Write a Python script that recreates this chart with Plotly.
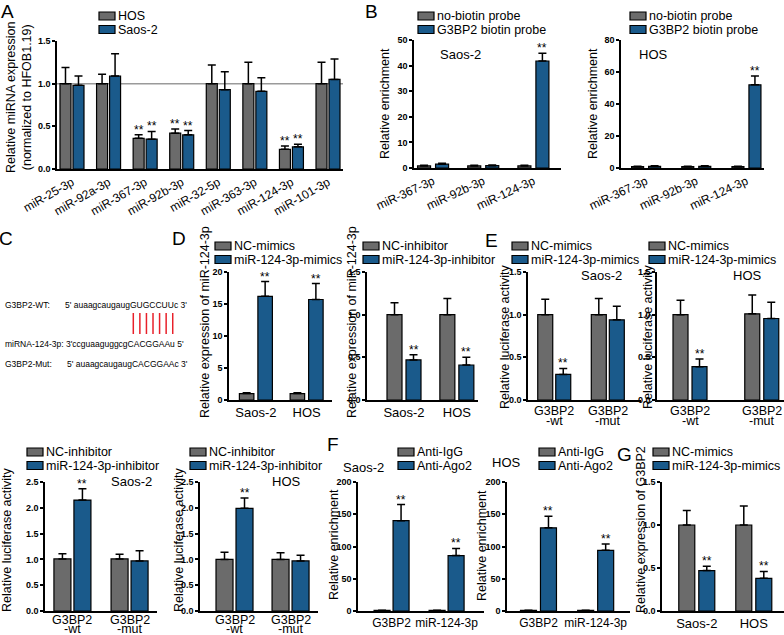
import plotly.graph_objects as go

W, H = 784, 635
GREY = "#6b6b6b"
BLUE = "#1a5a8b"
FONT = "Liberation Sans, Arial, sans-serif"

# --- A: miRNA expression ---
a_cats = ["miR-25-3p", "miR-92a-3p", "miR-367-3p", "miR-92b-3p",
          "miR-32-5p", "miR-363-3p", "miR-124-3p", "miR-101-3p"]
a_hos = [1.0, 1.0, 0.36, 0.42, 1.0, 1.0, 0.23, 1.0]
a_hos_err = [0.19, 0.11, 0.04, 0.05, 0.22, 0.25, 0.04, 0.25]
a_saos = [0.98, 1.09, 0.35, 0.40, 0.93, 0.91, 0.26, 1.05]
a_saos_err = [0.11, 0.26, 0.09, 0.05, 0.21, 0.16, 0.03, 0.24]
a_hos_sig = [0, 0, 1, 1, 0, 0, 1, 0]
a_saos_sig = [0, 0, 1, 1, 0, 0, 1, 0]

# --- B: biotin pull-down ---
b_cats = ["miR-367-3p", "miR-92b-3p", "miR-124-3p"]
b1_nob = [0.8, 0.8, 0.8]
b1_nob_err = [0.3, 0.3, 0.3]
b1_g3 = [1.5, 0.9, 41.8]
b1_g3_err = [0.4, 0.3, 3.0]
b2_nob = [0.8, 0.8, 0.8]
b2_nob_err = [0.3, 0.3, 0.3]
b2_g3 = [1.0, 1.0, 52.0]
b2_g3_err = [0.4, 0.4, 5.5]
b_nob_sig = [0, 0, 0]
b_g3_sig = [0, 0, 1]

# --- D: miR-124-3p expression ---
cell_cats = ["Saos-2", "HOS"]
d1_nc = [1.0, 1.0]
d1_nc_err = [0.12, 0.15]
d1_mim = [16.2, 15.7]
d1_mim_err = [2.3, 2.5]
d2_nc = [1.0, 1.0]
d2_nc_err = [0.14, 0.19]
d2_inh = [0.47, 0.41]
d2_inh_err = [0.06, 0.09]

# --- E / lower luciferase ---
luc_cats = ["G3BP2-wt", "G3BP2-mut"]
luc_line1 = ["G3BP2", "G3BP2"]
luc_line2 = ["-wt", "-mut"]
e1_nc = [1.0, 1.0]
e1_nc_err = [0.18, 0.19]
e1_mim = [0.30, 0.94]
e1_mim_err = [0.07, 0.16]
e2_nc = [1.0, 1.01]
e2_nc_err = [0.17, 0.22]
e2_mim = [0.39, 0.955]
e2_mim_err = [0.09, 0.19]
h1_nc = [1.01, 1.01]
h1_nc_err = [0.10, 0.09]
h1_inh = [2.15, 0.97]
h1_inh_err = [0.22, 0.20]
h2_nc = [1.0, 1.0]
h2_nc_err = [0.14, 0.13]
h2_inh = [1.99, 0.97]
h2_inh_err = [0.20, 0.11]
luc_sig = [1, 0]

# --- F: Ago2 RIP ---
f_cats = ["G3BP2", "miR-124-3p"]
f1_igg = [1.0, 1.0]
f1_ago = [140, 86]
f1_ago_err = [25, 11]
f2_igg = [1.0, 1.0]
f2_ago = [129, 94]
f2_ago_err = [18, 10]

# --- G: G3BP2 expression ---
g_nc = [1.0, 1.0]
g_nc_err = [0.17, 0.22]
g_mim = [0.47, 0.38]
g_mim_err = [0.05, 0.08]

zeros2 = [0, 0]
none2 = [0, 0]
both2 = [1, 1]


def px(x):
    return x / W


def py(y):
    return 1 - y / H


panels = [
    dict(cats=a_cats, g=(a_hos, a_hos_err, a_hos_sig), b=(a_saos, a_saos_err, a_saos_sig),
         box=(57, 343, 41, 169), xr=(-0.41, 7.41), ymax=1.5, dtick=0.5, fmt=".1f",
         bw=11, gap=2, angle=-30, tsize=12),
    dict(cats=b_cats, g=(b1_nob, b1_nob_err, b_nob_sig), b=(b1_g3, b1_g3_err, b_g3_sig),
         box=(414, 561, 40, 168), xr=(-0.38, 2.55), ymax=50, dtick=10, fmt="d",
         bw=13, gap=5, angle=-25, tsize=12),
    dict(cats=b_cats, g=(b2_nob, b2_nob_err, b_nob_sig), b=(b2_g3, b2_g3_err, b_g3_sig),
         box=(621, 764, 40, 168), xr=(-0.5, 2.35), ymax=80, dtick=20, fmt="d",
         bw=12, gap=5, angle=-25, tsize=12),
    dict(cats=cell_cats, g=(d1_nc, d1_nc_err, none2), b=(d1_mim, d1_mim_err, both2),
         box=(229, 332, 272, 400), xr=(-0.53, 1.5), ymax=20, dtick=5, fmt="d",
         bw=14.5, gap=4, angle=0, tsize=13),
    dict(cats=cell_cats, g=(d2_nc, d2_nc_err, none2), b=(d2_inh, d2_inh_err, both2),
         box=(367, 478, 272, 400), xr=(-0.7, 1.4), ymax=1.5, dtick=0.5, fmt=".1f",
         bw=15, gap=4, angle=0, tsize=13),
    dict(cats=luc_cats, g=(e1_nc, e1_nc_err, none2), b=(e1_mim, e1_mim_err, luc_sig),
         box=(528, 641, 272, 400), xr=(-0.49, 1.62), ymax=1.5, dtick=0.5, fmt=".1f",
         bw=15, gap=3, angle=0, tsize=12.5, split=(11, 20.5)),
    dict(cats=luc_cats, g=(e2_nc, e2_nc_err, none2), b=(e2_mim, e2_mim_err, luc_sig),
         box=(657, 784, 272, 400), xr=(-0.46, 1.31), ymax=1.5, dtick=0.5, fmt=".1f",
         bw=15, gap=4, angle=0, tsize=12.5, split=(11, 20.5)),
    dict(cats=luc_cats, g=(h1_nc, h1_nc_err, none2), b=(h1_inh, h1_inh_err, luc_sig),
         box=(45, 157, 482, 611), xr=(-0.48, 1.48), ymax=2.5, dtick=0.5, fmt=".1f",
         bw=17, gap=3, angle=0, tsize=12.5, split=(9, 18)),
    dict(cats=luc_cats, g=(h2_nc, h2_nc_err, none2), b=(h2_inh, h2_inh_err, luc_sig),
         box=(200, 318, 482, 611), xr=(-0.616, 1.49), ymax=2.5, dtick=0.5, fmt=".1f",
         bw=17, gap=3, angle=0, tsize=12.5, split=(9, 18)),
    dict(cats=f_cats, g=(f1_igg, zeros2, none2), b=(f1_ago, f1_ago_err, both2),
         box=(358, 484, 482, 611), xr=(-0.61, 1.68), ymax=200, dtick=50, fmt="d",
         bw=16, gap=3, angle=0, tsize=12),
    dict(cats=f_cats, g=(f2_igg, zeros2, none2), b=(f2_ago, f2_ago_err, both2),
         box=(507, 630, 482, 611), xr=(-0.55, 1.6), ymax=200, dtick=50, fmt="d",
         bw=16, gap=4, angle=0, tsize=12),
    dict(cats=cell_cats, g=(g_nc, g_nc_err, none2), b=(g_mim, g_mim_err, both2),
         box=(662, 784, 482, 611), xr=(-0.61, 1.53), ymax=1.5, dtick=0.5, fmt=".1f",
         bw=16, gap=4, angle=0, tsize=13),
]

fig = go.Figure()
layout = {}
annotations = []
shapes = []

for i, p in enumerate(panels):
    n = "" if i == 0 else str(i + 1)
    x0, x1, yt, yb = p["box"]
    ppc = (x1 - x0) / (p["xr"][1] - p["xr"][0])   # pixels per category
    w = p["bw"] / ppc
    g = p["gap"] / ppc
    for (vals, errs, sig), color, off in ((p["g"], GREY, -w - g / 2), (p["b"], BLUE, g / 2)):
        fig.add_trace(go.Bar(
            x=p["cats"], y=vals, xaxis="x" + n, yaxis="y" + n,
            width=w, offset=off, showlegend=False,
            marker=dict(color=color, line=dict(color="black", width=1.2)),
            error_y=dict(type="data", array=errs, arrayminus=[0] * len(errs),
                         symmetric=False, color="black", thickness=1.5, width=4),
        ))
        for k, s in enumerate(sig):
            if s:
                annotations.append(dict(
                    x=k + off + w / 2, y=vals[k] + errs[k], xref="x" + n, yref="y" + n,
                    text="**", showarrow=False, yanchor="bottom", yshift=-4,
                    font=dict(size=12, color="black")))
    xax = dict(
        domain=[px(x0), px(x1)], range=list(p["xr"]), anchor="y" + n, type="category",
        showline=True, linecolor="black", linewidth=1.5, ticks="", showgrid=False,
        automargin=False, tickangle=p["angle"],
        tickfont=dict(size=p["tsize"], color="black"))
    if p.get("split"):
        # two-line category labels with tight line spacing
        xax.update(showticklabels=False)
        for k in range(len(p["cats"])):
            for s, dy in ((luc_line1[k], p["split"][0]), (luc_line2[k], p["split"][1])):
                annotations.append(dict(
                    x=k, y=py(yb + dy), xref="x" + n, yref="paper", text=s,
                    showarrow=False, yanchor="middle",
                    font=dict(size=p["tsize"], color="black")))
    layout["xaxis" + n] = xax
    layout["yaxis" + n] = dict(
        domain=[py(yb), py(yt)], range=[0, p["ymax"]], anchor="x" + n,
        showline=True, linecolor="black", linewidth=1.5, ticks="outside", ticklen=3,
        tickwidth=1.5, tickcolor="black", dtick=p["dtick"], tick0=0, tickformat=p["fmt"],
        showgrid=False, zeroline=False, automargin=False,
        tickfont=dict(size=9, color="black", weight="bold"))

# reference line in A
shapes.append(dict(type="line", xref="x domain", yref="y", x0=0, x1=1, y0=1, y1=1,
                   line=dict(color="#9a9a9a", width=1.5), layer="below"))


def legend(x, y, labels, dy=13.5):
    for j, (lab, col) in enumerate(zip(labels, (GREY, BLUE))):
        top = y + j * dy
        shapes.append(dict(type="rect", xref="paper", yref="paper",
                           x0=px(x), x1=px(x + 16), y0=py(top + 8), y1=py(top),
                           fillcolor=col, line=dict(color="black", width=1.2)))
        annotations.append(dict(x=px(x + 17), y=py(top + 4), xref="paper", yref="paper",
                                text=lab, showarrow=False, xanchor="left", yanchor="middle",
                                font=dict(size=12.5, color="black")))


legend(99, 12, ["HOS", "Saos-2"])
legend(418, 12, ["no-biotin probe", "G3BP2 biotin probe"])
legend(630, 12, ["no-biotin probe", "G3BP2 biotin probe"])
legend(215, 242, ["NC-mimics", "miR-124-3p-mimics"])
legend(363, 242, ["NC-inhibitor", "miR-124-3p-inhibitor"])
legend(512, 242, ["NC-mimics", "miR-124-3p-mimics"])
legend(649, 242, ["NC-mimics", "miR-124-3p-mimics"])
legend(27, 448, ["NC-inhibitor", "miR-124-3p-inhibitor"])
legend(190, 448, ["NC-inhibitor", "miR-124-3p-inhibitor"])
legend(398, 448, ["Anti-IgG", "Anti-Ago2"])
legend(539, 448, ["Anti-IgG", "Anti-Ago2"])
legend(653, 448, ["NC-mimics", "miR-124-3p-mimics"])


def text(x, y, s, size=13, anchor="center", angle=0):
    annotations.append(dict(x=px(x), y=py(y), xref="paper", yref="paper", text=s,
                            showarrow=False, xanchor=anchor, yanchor="middle",
                            textangle=angle, font=dict(size=size, color="black")))


# y-axis titles
text(19, 98, "Relative miRNA expression<br>(normalized to HFOB1.19)", 12.5, angle=-90)
text(385, 104, "Relative enrichment", 12.5, angle=-90)
text(593, 104, "Relative enrichment", 12.5, angle=-90)
text(205, 322, "Relative expression of miR-124-3p", 12.5, angle=-90)
text(352, 322, "Relative expression of miR-124-3p", 12.5, angle=-90)
text(505, 337, "Relative luciferase activity", 12.5, angle=-90)
text(648, 337, "Relative luciferase activity", 12.5, angle=-90)
text(7, 540, "Relative luciferase activity", 12.5, angle=-90)
text(179, 540, "Relative luciferase activity", 12.5, angle=-90)
text(334, 545, "Relative enrichment", 12.5, angle=-90)
text(482, 546, "Relative enrichment", 12.5, angle=-90)
text(641, 530, "Relative expression of G3BP2", 12.5, angle=-90)

# in-panel cell labels
text(460, 54, "Saos-2")
text(653, 55, "HOS")
text(601, 276, "Saos-2")
text(747, 276, "HOS")
text(131, 481, "Saos-2")
text(286, 481, "HOS")
text(363, 467, "Saos-2")
text(507, 463, "HOS")

# panel letters
for lx, ly, s in ((7, 11, "A"), (371, 11, "B"), (6, 239, "C"), (179, 239, "D"),
                  (491, 240, "E"), (333, 444, "F"), (624, 454, "G")):
    text(lx, ly, s, 19)

# panel C sequences
text(3, 305.5, "G3BP2-WT:", 8.5, anchor="left")
text(63, 305.5, "5' auaagcaugaugGUGCCUUc 3'", 8.5, anchor="left")
text(3, 343.5, "miRNA-124-3p: 3'ccguaaguggcgCACGGAAu 5'", 8.5, anchor="left")
text(3, 364, "G3BP2-Mut:", 8.5, anchor="left")
text(65, 364, "5' auaagcaugaugCACGGAAc 3'", 8.5, anchor="left")
for k in range(7):
    lx = 133.3 + k * 6.57
    shapes.append(dict(type="line", xref="paper", yref="paper", x0=px(lx), x1=px(lx),
                       y0=py(313), y1=py(334), line=dict(color="#e8202a", width=1.5)))

fig.update_layout(
    **layout,
    width=W, height=H, margin=dict(l=0, r=0, t=0, b=0, autoexpand=False),
    paper_bgcolor="white", plot_bgcolor="white",
    barmode="overlay", showlegend=False,
    font=dict(family=FONT, color="black"),
    annotations=annotations, shapes=shapes,
)

# page body has a default 8px margin; drop it so the figure sits at the window origin
fig.write_html("out.html", config={"displayModeBar": False},
               post_script="document.body.style.margin='0';")
